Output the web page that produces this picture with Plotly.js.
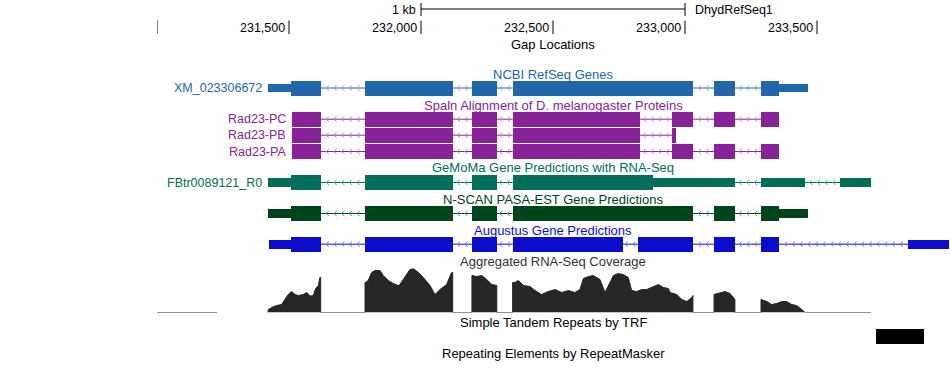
<!DOCTYPE html>
<html>
<head>
<meta charset="utf-8">
<script src="https://cdn.plot.ly/plotly-3.0.1.min.js"></script>
<style>html,body{margin:0;padding:0;background:#fff;}#chart{width:950px;height:376px;}</style>
</head>
<body>
<div id="chart"></div>
<script>
// ---------- data ----------
const viewStart = 231000, viewEnd = 234000;
const tickPos = [231000, 231500, 232000, 232500, 233000, 233500];
const tickLabels = ["", "231,500", "232,000", "232,500", "233,000", "233,500"];
const scaleBar = [232000, 233000];
const scaleLabel = "1 kb";
const assemblyName = "DhydRefSeq1";

// NCBI RefSeq
const refseqName = "XM_023306672";
const refseqStarts = [231422, 231788, 232193, 232347, 233110, 233288];
const refseqEnds   = [231620, 232120, 232287, 233030, 233189, 233466];
const refseqThick  = [231508, 233356];

// Spaln alignments
const spalnNames = ["Rad23-PC", "Rad23-PB", "Rad23-PA"];
const spalnPCStarts = [231512, 231788, 232193, 232347, 232951, 233110, 233288];
const spalnPCEnds   = [231620, 232120, 232287, 232830, 233030, 233189, 233356];
const spalnPBStarts = [231512, 231788, 232193, 232347, 232951];
const spalnPBEnds   = [231620, 232120, 232287, 232830, 232966];
const spalnPAStarts = [231512, 231788, 232193, 232347, 232951, 233110, 233288];
const spalnPAEnds   = [231620, 232120, 232287, 232830, 233030, 233189, 233356];

// GeMoMa
const gemomaName = "FBtr0089121_R0";
const gemomaStarts = [231422, 231788, 232193, 232347, 233288, 233587];
const gemomaEnds   = [231620, 232120, 232287, 233189, 233455, 233705];
const gemomaThick  = [231508, 232878];

// N-SCAN PASA-EST
const nscanStarts = [231422, 231788, 232193, 232347, 233110, 233288];
const nscanEnds   = [231620, 232120, 232287, 233030, 233189, 233466];
const nscanThick  = [231508, 233356];

// Augustus
const augStarts = [231425, 231788, 232193, 232347, 232821, 233110, 233288, 233845];
const augEnds   = [231620, 232120, 232287, 232764, 233030, 233189, 233356, 234150];
const augThick  = [231508, 233356];

// Aggregated RNA-Seq coverage
const covPos = [231000, 231227, null,
  231420, 231422, 231434, 231453, 231472, 231485, 231497, 231510, 231523, 231535, 231554, 231567, 231580, 231592, 231601, 231611, 231617, 231620, 231620,
  231788, 231788, 231790, 231800, 231813, 231826, 231845, 231857, 231876, 231895, 231914, 231920, 231939, 231958, 231971, 231990, 232009, 232034, 232053, 232072, 232097, 232116, 232120, 232120,
  232193, 232193, 232211, 232230, 232249, 232268, 232287, 232287,
  232347, 232347, 232356, 232369, 232388, 232413, 232432, 232457, 232482, 232508, 232533, 232558, 232583, 232602, 232615, 232634, 232653, 232678, 232697, 232710, 232729, 232747, 232766, 232785, 232798, 232817, 232836, 232855, 232874, 232899, 232918, 232937, 232943, 232969, 232988, 233007, 233025, 233030, 233030,
  233110, 233110, 233133, 233152, 233171, 233186, 233189, 233189,
  233288, 233288, 233310, 233328, 233347, 233366, 233385, 233404, 233423, 233442, 233455, 233705];
const covVal = [0, 0, null,
  0, 3, 5, 7, 8, 13, 18, 21, 18, 17, 18, 20, 16.5, 17, 24, 27, 35, 35, 0,
  0, 30, 30, 32, 40, 42, 42, 37, 32, 29, 27, 28, 35, 43, 44, 40, 35, 27, 18, 23, 28, 40, 40, 0,
  0, 37, 36, 37, 33, 28, 27, 0,
  0, 30, 30, 32, 27, 26, 22, 18, 21, 23, 20, 22, 20, 23, 34, 36, 37, 33, 20, 27, 37, 39, 38, 35, 22, 21, 23, 23, 25, 28, 25, 24, 20, 18, 13, 11, 15, 17, 0,
  0, 18, 20, 21, 19, 13, 13, 0,
  0, 13, 11, 8, 9, 11, 11, 8, 7, 3, 0, 0];

// Simple tandem repeats (TRF)
const trfStarts = [233724];
const trfEnds   = [233905];

// ---------- drawing helpers ----------
const PX = 792 / (viewEnd - viewStart); // px per bp
const FONT = "Liberation Sans, Arial, Helvetica, sans-serif";
const traces = [];
const shapes = [];
const annotations = [];

function lighten(hex, f) {
  const n = parseInt(hex.slice(1), 16);
  const r = (n >> 16) & 255, g = (n >> 8) & 255, b = n & 255;
  const m = c => Math.round(c + (255 - c) * f);
  return `rgb(${m(r)},${m(g)},${m(b)})`;
}

function drawGene(starts, ends, thick, yc, color, thinH, thickH) {
  const bx = [], bb = [], bw = [], by = [];
  starts.forEach((s, i) => {
    const e = ends[i];
    const ts = thick ? Math.max(s, thick[0]) : s;
    const te = thick ? Math.min(e, thick[1]) : e;
    if (te > ts) { bb.push(ts); bx.push(te - ts); bw.push(thickH); by.push(yc); }
    if (thick) {
      if (s < Math.min(e, thick[0])) { const ee = Math.min(e, thick[0]); bb.push(s); bx.push(ee - s); bw.push(thinH); by.push(yc); }
      if (e > Math.max(s, thick[1])) { const ss = Math.max(s, thick[1]); bb.push(ss); bx.push(e - ss); bw.push(thinH); by.push(yc); }
    }
  });
  // introns
  const lx = [], ly = [], cx = [], cy = [];
  for (let i = 0; i < starts.length - 1; i++) {
    const s = ends[i], e = starts[i + 1];
    lx.push(s, e, null); ly.push(yc, yc, null);
    const L = (e - s) * PX;
    const sp = 7.7, aw = 3, ah = 2.5;
    const n = Math.floor((L - 7) / sp) + 1;
    if (n < 1) continue;
    const span = (n - 1) * sp + aw;
    const x0 = s + ((L - span) / 2) / PX;
    for (let k = 0; k < n; k++) {
      const tip = x0 + (k * sp) / PX;
      cx.push(tip + aw / PX, tip, tip + aw / PX, null);
      cy.push(yc - ah, yc, yc + ah, null);
    }
  }
  traces.push({type: 'scatter', mode: 'lines', x: lx, y: ly, line: {color: color, width: 1}, hoverinfo: 'skip', cliponaxis: true});
  traces.push({type: 'scatter', mode: 'lines', x: cx, y: cy, line: {color: lighten(color, 0.45), width: 1}, hoverinfo: 'skip'});
  traces.push({type: 'bar', orientation: 'h', base: bb, x: bx, y: by, width: bw,
    marker: {color: color, line: {width: 0}}, hoverinfo: 'skip'});
}

function label(text, x, y, color, opts) {
  annotations.push(Object.assign({text: text, x: x, y: y, xref: 'x', yref: 'y', showarrow: false,
    font: {family: FONT, size: 12.5, color: color}, xanchor: 'right', yanchor: 'middle'}, opts || {}));
}
function title(text, y, color) {
  annotations.push({text: text, x: 0.5, y: y, xref: 'paper', yref: 'y', showarrow: false,
    font: {family: FONT, size: 13, color: color}, xanchor: 'center', yanchor: 'middle'});
}

// ---------- colours ----------
const cRef = '#2266aa', cSpaln = '#882299', cGem = '#006e5b', cNscan = '#00441b', cAug = '#0c0ccc', cCov = '#262626';

// scale bar & ruler
shapes.push({type: 'line', xref: 'x', yref: 'y', x0: scaleBar[0], x1: scaleBar[1], y0: 9, y1: 9, line: {color: '#000', width: 1}});
scaleBar.forEach(p => shapes.push({type: 'line', xref: 'x', yref: 'y', x0: p, x1: p, y0: 3, y1: 16, line: {color: '#000', width: 1}}));
label(scaleLabel, scaleBar[0], 10, '#000', {xshift: -3});
label(assemblyName, scaleBar[1], 10, '#000', {xanchor: 'left', xshift: 8});
tickPos.forEach((p, i) => {
  shapes.push({type: 'line', xref: 'x', yref: 'y', x0: p, x1: p, y0: 20.5, y1: 34, line: {color: '#000', width: 1}});
  if (tickLabels[i]) label(tickLabels[i], p, 27.5, '#000', {xshift: -2});
});
title('Gap Locations', 44, '#000');

// RefSeq
title('NCBI RefSeq Genes', 74, cRef);
drawGene(refseqStarts, refseqEnds, refseqThick, 88, cRef, 8, 15);
label(refseqName, refseqStarts[0], 88, cRef, {xshift: -4});

// Spaln
title('Spaln Alignment of D. melanogaster Proteins', 105, cSpaln);
const spaln = [[spalnPCStarts, spalnPCEnds], [spalnPBStarts, spalnPBEnds], [spalnPAStarts, spalnPAEnds]];
const spalnY = [119.2, 135.2, 151.5];
spaln.forEach((g, i) => {
  drawGene(g[0], g[1], null, spalnY[i], cSpaln, 15, 15);
  label(spalnNames[i], g[0][0], spalnY[i], cSpaln, {xshift: -4});
});

// GeMoMa
title('GeMoMa Gene Predictions with RNA-Seq', 167.5, cGem);
drawGene(gemomaStarts, gemomaEnds, gemomaThick, 182.5, cGem, 8.5, 15);
label(gemomaName, gemomaStarts[0], 182.5, cGem, {xshift: -4});

// N-SCAN
title('N-SCAN PASA-EST Gene Predictions', 199, cNscan);
drawGene(nscanStarts, nscanEnds, nscanThick, 213.5, cNscan, 8.5, 15);

// Augustus
title('Augustus Gene Predictions', 230.5, cAug);
drawGene(augStarts, augEnds, augThick, 244.2, cAug, 9, 15);

// Coverage
title('Aggregated RNA-Seq Coverage', 261.5, '#333');
traces.push({type: 'scatter', mode: 'lines', x: covPos, y: covVal, yaxis: 'y2', fill: 'tozeroy',
  fillcolor: cCov, line: {color: cCov, width: 1, shape: 'linear'}, hoverinfo: 'skip', connectgaps: false});

// TRF
title('Simple Tandem Repeats by TRF', 322.5, '#000');
traces.push({type: 'bar', orientation: 'h', base: trfStarts, x: trfEnds.map((e, i) => e - trfStarts[i]),
  y: trfStarts.map(() => 336.5), width: trfStarts.map(() => 15), marker: {color: '#000', line: {width: 0}}, hoverinfo: 'skip'});

// RepeatMasker
title('Repeating Elements by RepeatMasker', 353, '#000');

const H = 376;
const layout = {
  width: 950, height: 376,
  margin: {l: 157, r: 1, t: 0, b: 0, pad: 0},
  paper_bgcolor: '#fff', plot_bgcolor: '#fff',
  showlegend: false, barmode: 'overlay', bargap: 0,
  xaxis: {range: [viewStart, viewEnd], visible: false, fixedrange: true},
  yaxis: {range: [H, 0], visible: false, fixedrange: true, domain: [0, 1]},
  yaxis2: {range: [0, 44], visible: false, fixedrange: true, anchor: 'x',
    domain: [(H - 312.5) / H, (H - 268.5) / H]},
  shapes: shapes,
  annotations: annotations
};
Plotly.newPlot('chart', traces, layout, {staticPlot: true, displayModeBar: false});
</script>
</body>
</html>
